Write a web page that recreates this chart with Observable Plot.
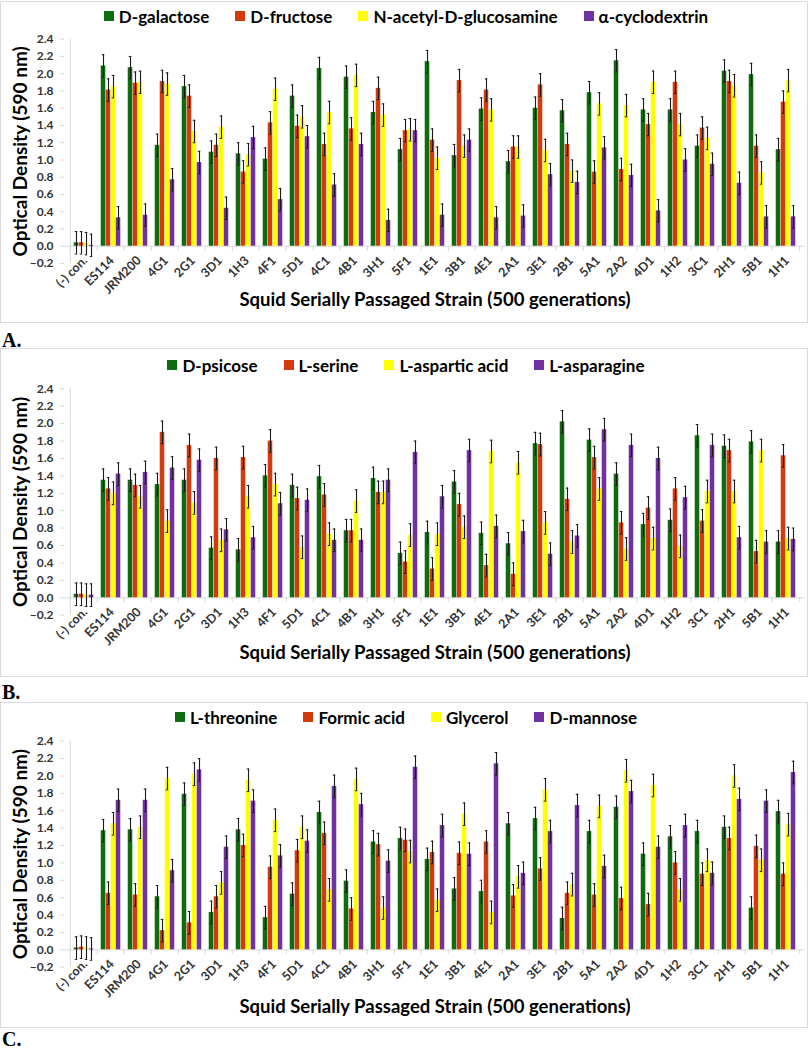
<!DOCTYPE html>
<html><head><meta charset="utf-8">
<script src="https://cdn.jsdelivr.net/npm/d3@7"></script>
<script src="https://cdn.jsdelivr.net/npm/@observablehq/plot@0.6"></script>
<style>
body{margin:0;background:#fff;font-family:Lato,sans-serif}
#root{position:relative;width:810px;height:1050px;overflow:hidden}
.box{position:absolute;left:0;width:806px;border:1px solid #d9d9d9}
.legend{position:absolute;left:0;width:812px;height:20px;display:flex;justify-content:center;align-items:center;gap:26px;font-weight:700;font-size:17px;color:#000}
.legend .item{display:flex;align-items:center;white-space:nowrap}
.legend i{display:inline-block;width:10px;height:10px;margin-right:5px}
.letter{position:absolute;left:2px;font-family:"Liberation Serif",serif;font-weight:700;font-size:20px;line-height:1}
.chart{position:absolute;left:0}
</style></head>
<body><div id="root"></div>
<script>
const categories = ["(-) con.","ES114","JRM200","4G1","2G1","3D1","1H3","4F1","5D1","4C1","4B1","3H1","5F1","1E1","3B1","4E1","2A1","3E1","2B1","5A1","2A2","4D1","1H2","3C1","2H1","5B1","1H1"];

// Panel A
const seriesA = ["D-galactose","D-fructose","N-acetyl-D-glucosamine","α-cyclodextrin"];
const galactose    = [0.04,2.09,2.07,1.17,1.85,1.09,1.07,1.01,1.74,2.06,1.96,1.55,1.12,2.14,1.05,1.59,0.98,1.60,1.57,1.78,2.15,1.58,1.58,1.16,2.03,1.99,1.12];
const fructose     = [0.04,1.81,1.89,1.91,1.74,1.17,0.86,1.43,1.39,1.18,1.36,1.83,1.34,1.23,1.92,1.81,1.15,1.87,1.18,0.86,0.89,1.41,1.90,1.37,1.91,1.16,1.67];
const glucosamine  = [0.03,1.85,1.90,1.88,1.33,1.38,1.06,1.82,1.50,1.55,1.98,1.52,1.35,1.02,1.16,1.58,1.15,1.11,0.87,1.65,1.63,1.90,1.41,1.25,1.86,0.85,1.92];
const cyclodextrin = [0.01,0.33,0.36,0.77,0.97,0.44,1.26,0.54,1.27,0.71,1.18,0.30,1.34,0.36,1.23,0.33,0.35,0.83,0.74,1.14,0.82,0.41,1.00,0.95,0.73,0.34,0.34];

// Panel B
const seriesB = ["D-psicose","L-serine","L-aspartic acid","L-asparagine"];
const psicose    = [0.04,1.35,1.35,1.30,1.35,0.57,0.55,1.40,1.29,1.39,0.77,1.37,0.51,0.75,1.33,0.74,0.62,1.77,2.02,1.81,1.42,0.84,0.89,1.86,1.74,1.79,0.64];
const serine     = [0.04,1.25,1.29,1.90,1.75,1.60,1.61,1.80,1.14,1.18,0.77,1.21,0.41,0.33,1.07,0.37,0.27,1.76,1.13,1.61,0.86,1.03,1.25,0.88,1.69,0.53,1.63];
const aspartic   = [0.03,1.20,1.16,0.88,1.09,0.66,1.16,1.30,0.58,0.73,1.11,1.21,0.72,0.73,0.81,1.68,1.55,0.86,0.64,1.25,0.56,0.68,0.59,1.22,1.22,1.69,0.68];
const asparagine = [0.03,1.42,1.44,1.49,1.58,0.78,0.69,1.08,1.12,0.66,0.66,1.35,1.67,1.16,1.69,0.82,0.76,0.50,0.71,1.93,1.75,1.60,1.15,1.75,0.69,0.64,0.67];

// Panel C
const seriesC = ["L-threonine","Formic acid","Glycerol","D-mannose"];
const threonine = [0.02,1.37,1.38,0.61,1.79,0.43,1.38,0.37,0.64,1.58,0.79,1.24,1.28,1.04,0.70,0.67,1.45,1.51,0.36,1.36,1.64,1.10,1.30,1.36,1.41,0.48,1.59];
const formic    = [0.03,0.65,0.63,0.22,0.31,0.61,1.20,0.95,1.14,1.34,0.47,1.21,1.26,1.12,1.11,1.24,0.62,0.93,0.65,0.63,0.59,0.52,1.00,0.87,1.28,1.19,0.87];
const glycerol  = [0.02,1.45,1.41,1.97,2.02,0.77,1.95,1.49,1.41,0.69,1.96,0.48,1.13,0.57,1.56,0.43,0.84,1.84,0.75,1.65,2.06,1.89,0.69,1.03,2.00,1.03,1.44];
const mannose   = [0.01,1.72,1.72,0.91,2.07,1.18,1.71,1.08,1.25,1.88,1.67,1.02,2.10,1.43,1.10,2.14,0.88,1.36,1.66,0.96,1.82,1.18,1.43,0.88,1.73,1.71,2.04];

const errorSD = 0.13;
const yTicks = [-0.2,0,0.2,0.4,0.6,0.8,1.0,1.2,1.4,1.6,1.8,2.0,2.2,2.4];
const colors = ["#0f6d0f","#d13b0d","#ffff00","#7131a1"];
const yLabel = "Optical Density (590 nm)";
const xLabel = "Squid Serially Passaged Strain (500 generations)";

const panels = [
  {letter:"A.", names:seriesA, values:[galactose,fructose,glucosamine,cyclodextrin], top:1, bottom:323, y24:38.7, yNeg:263, legendY:16, titleY:305, letterTop:330},
  {letter:"B.", names:seriesB, values:[psicose,serine,aspartic,asparagine], top:348, bottom:677, y24:388.3, yNeg:614.7, legendY:365, titleY:658, letterTop:682},
  {letter:"C.", names:seriesC, values:[threonine,formic,glycerol,mannose], top:702, bottom:1028, y24:740.7, yNeg:966.7, legendY:717, titleY:1012, letterTop:1029}
];

const root = document.getElementById("root");
const W = 810, ML = 64, MR = 5;
const bw = (W - ML - MR) / categories.length;
const barW = 5;
const offsets = [-7.5, -2.5, 2.5, 7.5];
const barInset = (bw - barW) / 2;
const capInset = (bw - 3) / 2;

for (const p of panels) {
  const box = document.createElement("div");
  box.className = "box";
  box.style.top = p.top + "px";
  box.style.height = (p.bottom - p.top - 2) + "px";
  root.appendChild(box);

  const H = p.bottom - p.top;
  const marks = [
    Plot.ruleY([0], {stroke: "#d9d9d9"}),
    Plot.ruleX(categories, {x: d => d, y1: 0, y2: -0.06, dx: -bw/2, stroke: "#d9d9d9"}),
    Plot.ruleX([categories[categories.length-1]], {x: d => d, y1: 0, y2: -0.06, dx: bw/2, stroke: "#d9d9d9"}),
    Plot.ruleX([categories[0]], {x: d => d, y1: -0.2, y2: 2.4, dx: -bw/2, stroke: "#d9d9d9"}),
    Plot.axisY(yTicks, {tickFormat: d3.format(".1f"), tickSize: 4, tickPadding: 7, stroke: "#d9d9d9", fill: "#333", fontWeight: "bold", fontSize: 12, label: null})
  ];
  p.values.forEach((vals, i) => {
    const rows = categories.map((c, j) => ({cat: c, value: vals[j]}));
    marks.push(Plot.barY(rows, {x: "cat", y: "value", fill: colors[i], dx: offsets[i], insetLeft: barInset, insetRight: barInset}));
  });
  p.values.forEach((vals, i) => {
    const rows = categories.map((c, j) => ({cat: c, value: vals[j]}));
    marks.push(Plot.ruleX(rows, {x: "cat", y1: d => d.value - errorSD, y2: d => d.value + errorSD, dx: offsets[i], stroke: "#1a1a1a", strokeWidth: 1.1}));
    marks.push(Plot.tickY(rows, {x: "cat", y: d => d.value + errorSD, dx: offsets[i], insetLeft: capInset, insetRight: capInset, stroke: "#1a1a1a", strokeWidth: 1}));
    marks.push(Plot.tickY(rows, {x: "cat", y: d => d.value - errorSD, dx: offsets[i], insetLeft: capInset, insetRight: capInset, stroke: "#1a1a1a", strokeWidth: 1}));
  });
  marks.push(Plot.text(categories, {x: d => d, y: 0, text: d => d, dx: 4, dy: 15, rotate: -45, textAnchor: "end", lineAnchor: "bottom", fontSize: 12.5, fontWeight: "bold", fill: "#333"}));
  marks.push(Plot.text([yLabel], {text: d => d, frameAnchor: "left", textAnchor: "middle", dx: -44, rotate: -90, fontSize: 19, fontWeight: "bold", fill: "#000"}));
  marks.push(Plot.text([xLabel], {text: d => d, frameAnchor: "bottom", textAnchor: "middle", dy: p.titleY - p.yNeg, fontSize: 18.5, fontWeight: "bold", fill: "#000"}));

  const svg = Plot.plot({
    width: W, height: H,
    marginLeft: ML, marginRight: MR,
    marginTop: p.y24 - p.top, marginBottom: p.bottom - p.yNeg,
    x: {type: "band", domain: categories, padding: 0, axis: null},
    y: {domain: [-0.2, 2.4], axis: null},
    style: {fontFamily: "Lato, sans-serif", background: "transparent", overflow: "visible"},
    marks
  });
  svg.classList.add("chart");
  svg.style.top = p.top + "px";
  root.appendChild(svg);

  const leg = document.createElement("div");
  leg.className = "legend";
  leg.style.top = (p.legendY - 10) + "px";
  p.names.forEach((n, i) => {
    const it = document.createElement("span");
    it.className = "item";
    const sw = document.createElement("i");
    sw.style.background = colors[i];
    it.appendChild(sw);
    it.appendChild(document.createTextNode(n));
    leg.appendChild(it);
  });
  root.appendChild(leg);

  const lt = document.createElement("div");
  lt.className = "letter";
  lt.style.top = p.letterTop + "px";
  lt.textContent = p.letter;
  root.appendChild(lt);
}
</script></body></html>
